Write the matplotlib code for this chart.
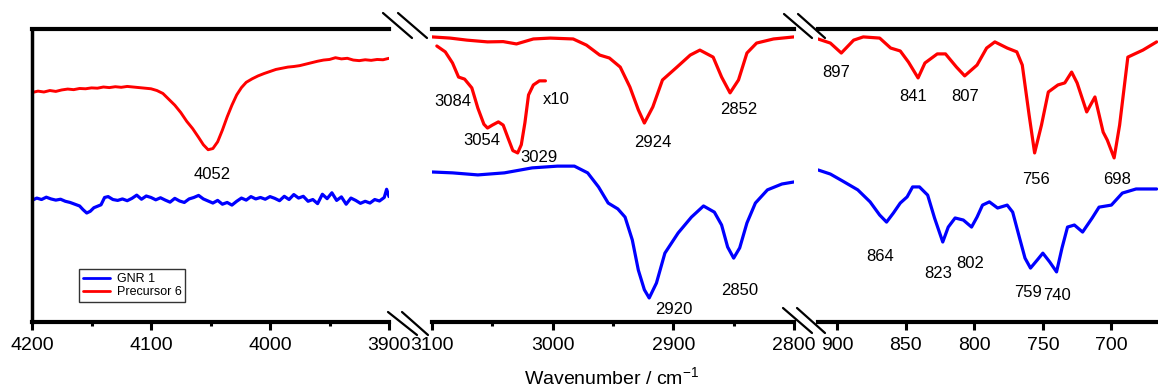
import matplotlib.pyplot as plt
from matplotlib.lines import Line2D

plt.rcParams['font.family'] = ['Liberation Sans', 'DejaVu Sans']
plt.rcParams['mathtext.fontset'] = 'custom'
plt.rcParams['mathtext.rm'] = 'Liberation Sans'
plt.rcParams['lines.solid_joinstyle'] = 'round'
plt.rcParams['lines.solid_capstyle'] = 'round'

# ---- high wavenumber region (4200-3900) ----
wn_a_red = [4200, 4195, 4190, 4185, 4180, 4175, 4170, 4165, 4160, 4155, 4150, 4145, 4140, 4135,
            4130, 4125, 4120, 4115, 4110, 4105, 4100, 4095, 4090, 4085, 4080, 4075, 4070, 4065,
            4060, 4056, 4052, 4048, 4044, 4040, 4036, 4032, 4028, 4024, 4020, 4015, 4010, 4005,
            4000, 3995, 3990, 3985, 3980, 3975, 3970, 3965, 3960, 3955, 3950, 3945, 3940, 3935,
            3930, 3925, 3920, 3915, 3910, 3905, 3900]
t_a_red = [78.3, 78.8, 78.5, 79.0, 78.7, 79.2, 79.5, 79.3, 79.7, 79.6, 79.9, 79.8, 80.2, 80.0,
           80.3, 80.1, 80.4, 80.2, 80.0, 79.8, 79.6, 79.0, 78.0, 76.0, 74.0, 71.5, 68.5, 66.0,
           63.0, 60.5, 58.8, 59.2, 61.5, 65.5, 70.0, 74.0, 77.5, 80.0, 81.8, 83.0, 84.0, 84.8,
           85.5, 86.2, 86.6, 87.0, 87.2, 87.5, 88.0, 88.5, 89.0, 89.4, 89.6, 90.2, 89.8, 90.0,
           89.4, 89.2, 89.5, 89.3, 89.6, 89.5, 90.0]

wn_a_blue = [4200, 4196, 4192, 4188, 4184, 4180, 4176, 4172, 4168, 4164, 4160, 4157, 4154, 4151,
             4148, 4145, 4142, 4139, 4136, 4132, 4128, 4124, 4120, 4116, 4112, 4108, 4104, 4100,
             4096, 4092, 4088, 4084, 4080, 4076, 4072, 4068, 4064, 4060, 4056, 4052, 4048, 4044,
             4040, 4036, 4032, 4028, 4024, 4020, 4016, 4012, 4008, 4004, 4000, 3996, 3992, 3988,
             3984, 3980, 3976, 3972, 3968, 3964, 3960, 3956, 3952, 3948, 3944, 3940, 3936, 3932,
             3928, 3924, 3920, 3916, 3912, 3908, 3904, 3902, 3900]
t_a_blue = [41.5, 42.3, 41.8, 42.6, 42.0, 41.6, 41.9, 41.2, 40.8, 40.2, 39.6, 38.3, 37.2, 37.8,
            39.0, 39.5, 40.0, 42.5, 42.8, 41.8, 41.5, 42.0, 41.4, 42.2, 43.3, 41.9, 43.0, 42.5,
            41.7, 42.4, 41.6, 40.9, 42.2, 41.3, 40.8, 42.0, 42.5, 43.2, 42.0, 41.3, 40.6, 41.5,
            40.2, 40.8, 39.9, 41.2, 42.3, 41.6, 42.8, 42.0, 42.5, 41.9, 42.8, 42.2, 41.4, 42.9,
            41.8, 43.5, 42.3, 42.9, 41.2, 41.8, 40.4, 43.6, 42.1, 44.1, 41.5, 42.7, 40.2, 42.3,
            41.5, 40.5, 41.2, 40.6, 41.8, 41.3, 42.5, 45.3, 42.8]

# ---- C-H stretch region (3100-2800) ----
wn_b_red = [3100, 3085, 3071, 3054, 3041, 3030, 3016, 3002, 2983, 2972, 2961, 2953, 2944, 2936,
            2929, 2924, 2917, 2909, 2897, 2886, 2878, 2867, 2860, 2853, 2846, 2839, 2831, 2817, 2800]
t_b_red = [97.3, 96.9, 96.2, 95.6, 95.7, 94.9, 96.6, 96.9, 96.6, 94.5, 91.1, 90.1, 87.0, 80.2,
           72.4, 67.9, 73.4, 82.6, 87.0, 91.1, 92.8, 90.4, 83.6, 78.2, 82.6, 91.8, 95.2, 96.6, 97.3]

# aromatic C-H, magnified x10
wn_b_zoom = [3096, 3089, 3083, 3078, 3073, 3067, 3062, 3057, 3054, 3050, 3045, 3041, 3037, 3033,
             3029, 3026, 3023, 3020, 3016, 3011, 3006]
t_b_zoom = [94.2, 92.2, 88.4, 83.6, 82.9, 79.9, 73.0, 67.5, 66.2, 67.2, 68.3, 67.2, 62.8, 58.5,
            57.7, 60.5, 68.0, 77.5, 80.9, 82.3, 82.3]

wn_b_blue = [3100, 3083, 3062, 3040, 3017, 2996, 2982, 2971, 2962, 2954, 2946, 2940, 2934, 2929,
             2924, 2920, 2914, 2907, 2896, 2885, 2875, 2866, 2860, 2855, 2850, 2845, 2839, 2832,
             2822, 2810, 2800]
t_b_blue = [51.2, 50.9, 50.2, 50.9, 52.6, 53.2, 53.2, 50.9, 46.1, 40.6, 38.6, 35.8, 28.0, 17.7,
            11.0, 8.2, 13.3, 23.5, 30.4, 35.8, 39.6, 37.5, 33.1, 25.6, 21.8, 25.3, 33.8, 40.6,
            45.1, 47.1, 47.8]

# ---- fingerprint region (914-666) ----
wn_c_red = [914, 905, 897, 888, 881, 869, 861, 854, 848, 841, 836, 827, 821, 813, 807, 798, 791,
            785, 776, 769, 765, 760, 756, 751, 746, 739, 734, 729, 725, 718, 712, 706, 703, 698,
            694, 688, 683, 677, 667]
t_c_red = [96.6, 95.2, 91.8, 96.2, 97.3, 96.9, 93.5, 92.5, 88.7, 83.3, 88.4, 91.5, 91.5, 87.0,
           84.0, 87.7, 93.5, 95.6, 93.5, 92.2, 87.7, 70.6, 57.7, 67.2, 78.5, 80.9, 81.6, 85.3,
           81.6, 71.7, 76.8, 64.8, 62.1, 56.0, 67.2, 90.4, 91.5, 92.8, 95.6]

wn_c_blue = [914, 905, 896, 885, 876, 869, 864, 859, 854, 849, 845, 840, 834, 829, 823, 819, 814,
             808, 802, 798, 794, 789, 783, 776, 772, 767, 763, 759, 754, 750, 745, 740, 736, 732,
             727, 721, 714, 709, 700, 692, 682, 667]
t_c_blue = [51.9, 50.5, 48.1, 45.1, 41.0, 36.5, 34.1, 37.2, 40.6, 42.7, 46.1, 46.1, 43.3, 35.5,
            27.3, 32.4, 35.5, 34.8, 32.4, 35.8, 39.9, 41.0, 38.9, 39.9, 37.5, 28.7, 21.8, 18.4,
            21.2, 23.5, 20.5, 17.1, 25.3, 32.4, 33.1, 30.7, 35.5, 39.2, 39.9, 44.0, 45.4, 45.4]

# peak labels: (text, x, y)
labels_a = [('4052', 4049, 50.2)]
labels_b = [('3084', 3083, 75.1), ('3054', 3059, 61.8), ('3029', 3011, 56.3), ('x10', 2997, 75.8),
            ('2924', 2917, 61.1), ('2852', 2846, 72.4), ('2920', 2900, 4.4), ('2850', 2845, 10.9)]
labels_c = [('897', 900.7, 85.3), ('841', 844.7, 76.8), ('807', 806.8, 76.8), ('756', 755.2, 48.8),
            ('698', 695.5, 48.8), ('864', 868.7, 22.2), ('823', 826.5, 16.7), ('802', 803.2, 20.1),
            ('759', 761, 9.9), ('740', 740, 8.9)]

W, H = 1158, 389
fig = plt.figure(figsize=(W / 100, H / 100), dpi=100)


def panel(x0, x1):
    bottom = 1 - 322 / H
    top = 1 - 29 / H
    return fig.add_axes([x0 / W, bottom, (x1 - x0) / W, top - bottom])


ax1 = panel(32, 389)
ax2 = panel(432, 794)
ax3 = panel(818, 1158)

RED = '#ff0000'
BLUE = '#0000ff'
LW = 2.3

ax1.plot(wn_a_red, t_a_red, color=RED, lw=2.1)
ax1.plot(wn_a_blue, t_a_blue, color=BLUE, lw=2.3)
ax2.plot(wn_b_red, t_b_red, color=RED, lw=LW)
ax2.plot(wn_b_zoom, t_b_zoom, color=RED, lw=LW)
ax2.plot(wn_b_blue, t_b_blue, color=BLUE, lw=LW)
ax3.plot(wn_c_red, t_c_red, color=RED, lw=LW)
ax3.plot(wn_c_blue, t_c_blue, color=BLUE, lw=LW)

ax1.set_xlim(4200, 3900)
ax2.set_xlim(3100, 2800)
ax3.set_xlim(914, 666)

ax1.set_xticks([4200, 4100, 4000, 3900])
ax1.set_xticks([4150, 4050, 3950], minor=True)
ax2.set_xticks([3100, 3000, 2900, 2800])
ax2.set_xticks([3050, 2950, 2850], minor=True)
ax3.set_xticks([900, 850, 800, 750, 700])

for ax, labels in ((ax1, labels_a), (ax2, labels_b), (ax3, labels_c)):
    ax.set_ylim(0, 100)
    ax.set_yticks([])
    ax.spines['right'].set_visible(False)
    ax.spines['top'].set_linewidth(3)
    ax.spines['bottom'].set_linewidth(3)
    ax.spines['left'].set_linewidth(2.5)
    if ax is not ax1:
        ax.spines['left'].set_visible(False)
    ax.tick_params(axis='x', which='major', direction='out', length=6, width=2.2,
                   labelsize=14, pad=5)
    ax.tick_params(axis='x', which='minor', direction='out', length=3, width=2.2)
    ax.patch.set_alpha(0)
    for s, x, y in labels:
        ax.text(x, y, s, ha='center', va='center', fontsize=12)

fig.text(612 / W, 1 - 378 / H, 'Wavenumber / cm$^{-1}$', ha='center', va='center', fontsize=14)

# axis break marks
breaks = [((383, 13), (412, 38)), ((398, 13), (427, 38)),
          ((388, 312), (417, 335)), ((402, 312), (428, 335)),
          ((784, 14), (812, 38)), ((798, 14), (825, 38)),
          ((783, 308), (812, 333)), ((797, 308), (825, 333))]
for (xa, ya), (xb, yb) in breaks:
    fig.add_artist(Line2D([xa / W, xb / W], [1 - ya / H, 1 - yb / H],
                          transform=fig.transFigure, color='black', lw=1.6))

handles = [Line2D([], [], color=BLUE, lw=2), Line2D([], [], color=RED, lw=2)]
leg = ax1.legend(handles, ['GNR 1', 'Precursor 6'], loc='lower left',
                 bbox_to_anchor=(0.132, 0.068), borderaxespad=0, fontsize=9,
                 fancybox=False, handlelength=2.2, handletextpad=0.5,
                 borderpad=0.3, labelspacing=0.1)
leg.get_frame().set_edgecolor('black')
leg.get_frame().set_linewidth(1)

fig.savefig('out.png', dpi=100)
